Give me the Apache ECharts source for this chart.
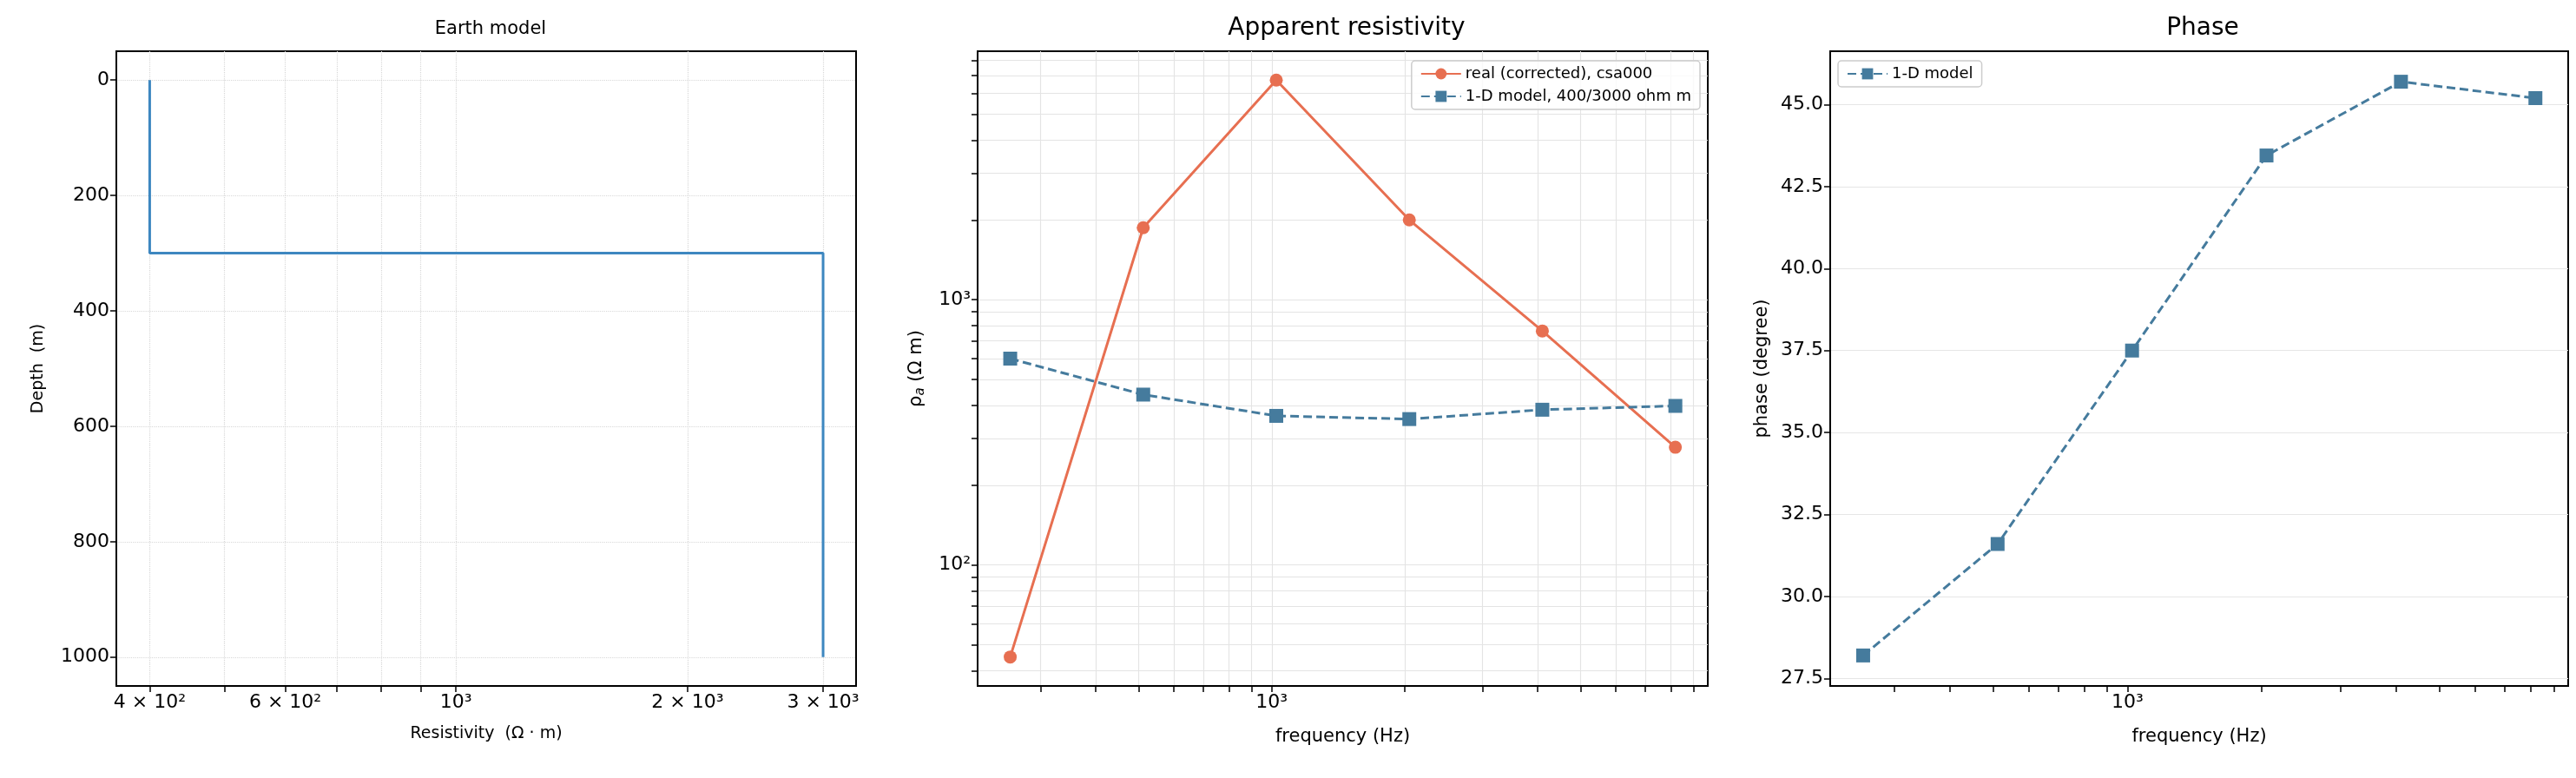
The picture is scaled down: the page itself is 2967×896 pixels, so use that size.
<!DOCTYPE html>
<html><head><meta charset="utf-8">
<script src="https://cdn.jsdelivr.net/npm/echarts@6/dist/echarts.min.js"></script>
<style>html,body{margin:0;padding:0;background:#fff}#c{width:2967px;height:896px}</style>
</head><body><div id="c"></div>
<script>
// Earth model
const layerRes = [400, 3000];
const layerDepth = [0, 300, 1000];
// Frequencies and responses
const freq = [256, 512, 1024, 2048, 4096, 8192];
const rhoReal = [45, 1870, 6730, 2000, 763, 278];
const rhoModel = [600, 439, 365, 355, 385, 398];
const phaseModel = [28.2, 31.6, 37.5, 43.45, 45.7, 45.2];
// Tick labels
const resTicks = [400, 600, 1000, 2000, 3000];
const resTickLabels = ['4 × 10²', '6 × 10²', '10³', '2 × 10³', '3 × 10³'];
const depthTicks = [0, 200, 400, 600, 800, 1000];
const phaseTicks = [27.5, 30.0, 32.5, 35.0, 37.5, 40.0, 42.5, 45.0];

const earthLine = [];
for (let i = 0; i < layerRes.length; i++) {
  earthLine.push([layerRes[i], layerDepth[i]]);
  earthLine.push([layerRes[i], layerDepth[i + 1]]);
}
function minorLog(lo, hi) {
  const v = [];
  for (let d = Math.pow(10, Math.floor(Math.log10(lo))); d <= hi; d *= 10)
    for (let k = 1; k < 10; k++) { const x = k * d; if (x >= lo && x <= hi) v.push(x); }
  return v;
}
const font = 'DejaVu Sans';
const lab = {color: '#000', fontSize: 22, fontFamily: font};
const frame = {show: true, borderColor: '#000', borderWidth: 2, backgroundColor: 'transparent'};
const axLine = {show: true, onZero: false, lineStyle: {color: '#000', width: 2}};
const tick = (vals) => ({show: true, length: 7, inside: false, lineStyle: {color: '#000', width: 1.5}, customValues: vals});

const chart = echarts.init(document.getElementById('c'));
chart.setOption({
  animation: false,
  title: [
    {text: 'Earth model', left: 560, top: 18, textAlign: 'center', textStyle: {fontSize: 21, fontWeight: 'normal', fontFamily: font, color: '#000'}},
    {text: 'Apparent resistivity', left: 1546, top: 14, textAlign: 'center', textStyle: {fontSize: 28, fontWeight: 'normal', fontFamily: font, color: '#000'}},
    {text: 'Phase', left: 2532, top: 14, textAlign: 'center', textStyle: {fontSize: 28, fontWeight: 'normal', fontFamily: font, color: '#000'}}
  ],
  grid: [
    Object.assign({left: 134, width: 852, top: 59, height: 731}, frame),
    Object.assign({left: 1126, width: 841, top: 59, height: 731}, frame),
    Object.assign({left: 2108, width: 850, top: 59, height: 731}, frame)
  ],
  legend: [
    {data: ['real (corrected), csa000', '1-D model, 400/3000 ohm m'], orient: 'vertical', right: 2967 - 1958, top: 70,
     itemWidth: 46, itemHeight: 16, itemGap: 8, textStyle: {fontSize: 18, fontFamily: font, color: '#000'},
     borderColor: '#ccc', borderWidth: 1.5, borderRadius: 4, padding: [6, 10, 6, 10], backgroundColor: 'rgba(255,255,255,0.8)'},
    {data: ['1-D model'], left: 2117, top: 70, itemWidth: 46, itemHeight: 16, textStyle: {fontSize: 18, fontFamily: font, color: '#000'},
     borderColor: '#ccc', borderWidth: 1.5, borderRadius: 4, padding: [6, 10, 6, 10]}
  ],
  xAxis: [
    {gridIndex: 0, type: 'log', min: 362, max: 3311, name: 'Resistivity  (Ω · m)', nameLocation: 'middle', nameGap: 46,
     nameTextStyle: {fontSize: 19, fontFamily: font, color: '#000'}, axisLine: axLine, axisTick: tick(minorLog(362, 3311)),
     axisLabel: Object.assign({customValues: resTicks, formatter: v => resTickLabels[resTicks.indexOf(Math.round(v))] || ''}, lab),
     splitLine: {show: true, lineStyle: {color: '#d8d8d8', type: 'dotted', width: 1.2}}},
    {gridIndex: 1, type: 'log', min: 216, max: 9700, name: 'frequency (Hz)', nameLocation: 'middle', nameGap: 48,
     nameTextStyle: {fontSize: 21, fontFamily: font, color: '#000'}, axisLine: axLine, axisTick: tick(minorLog(216, 9700)),
     axisLabel: Object.assign({customValues: [1000], formatter: () => '10³'}, lab),
     splitLine: {show: true, lineStyle: {color: '#e4e4e4', width: 1.2}}},
    {gridIndex: 2, type: 'log', min: 216, max: 9700, name: 'frequency (Hz)', nameLocation: 'middle', nameGap: 48,
     nameTextStyle: {fontSize: 21, fontFamily: font, color: '#000'}, axisLine: axLine, axisTick: tick(minorLog(216, 9700)),
     axisLabel: Object.assign({customValues: [1000], formatter: () => '10³'}, lab),
     splitLine: {show: false}}
  ],
  yAxis: [
    {gridIndex: 0, type: 'value', inverse: true, min: -50, max: 1050, name: 'Depth  (m)', nameLocation: 'middle', nameGap: 80,
     nameTextStyle: {fontSize: 19, fontFamily: font, color: '#000'}, axisLine: axLine, axisTick: tick(depthTicks),
     axisLabel: Object.assign({customValues: depthTicks, formatter: v => String(v)}, lab),
     splitLine: {show: true, lineStyle: {color: '#d8d8d8', type: 'dotted', width: 1.2}}},
    {gridIndex: 1, type: 'log', min: 35, max: 8650, name: 'ρ{s|a} (Ω m)', nameLocation: 'middle', nameGap: 58,
     nameTextStyle: {fontSize: 21, fontFamily: font, color: '#000', rich: {s: {fontSize: 15, fontStyle: 'italic', verticalAlign: 'bottom', padding: [10, 0, 0, 0]}}},
     axisLine: axLine, axisTick: tick(minorLog(35, 8650)),
     axisLabel: Object.assign({customValues: [100, 1000], formatter: v => Math.round(v) === 100 ? '10²' : '10³'}, lab),
     splitLine: {show: true, lineStyle: {color: '#e4e4e4', width: 1.2}}},
    {gridIndex: 2, type: 'value', min: 27.27, max: 46.63, name: 'phase (degree)', nameLocation: 'middle', nameGap: 68,
     nameTextStyle: {fontSize: 21, fontFamily: font, color: '#000'}, axisLine: axLine, axisTick: tick(phaseTicks),
     axisLabel: Object.assign({customValues: phaseTicks, formatter: v => v.toFixed(1)}, lab),
     splitLine: {show: true, lineStyle: {color: '#e6e6e6', width: 1.2}}}
  ],
  series: [
    {type: 'line', xAxisIndex: 0, yAxisIndex: 0, data: earthLine, showSymbol: false, lineStyle: {color: '#3d87c0', width: 3}, itemStyle: {color: '#3d87c0'}},
    {name: 'real (corrected), csa000', type: 'line', xAxisIndex: 1, yAxisIndex: 1, data: freq.map((f, i) => [f, rhoReal[i]]),
     symbol: 'circle', symbolSize: 15, lineStyle: {color: '#e76f51', width: 3}, itemStyle: {color: '#e76f51'}},
    {name: '1-D model, 400/3000 ohm m', type: 'line', xAxisIndex: 1, yAxisIndex: 1, data: freq.map((f, i) => [f, rhoModel[i]]),
     symbol: 'rect', symbolSize: 16, lineStyle: {color: '#457b9d', width: 3, type: [10, 5]}, itemStyle: {color: '#457b9d'}},
    {name: '1-D model', type: 'line', xAxisIndex: 2, yAxisIndex: 2, data: freq.map((f, i) => [f, phaseModel[i]]),
     symbol: 'rect', symbolSize: 16, lineStyle: {color: '#457b9d', width: 3, type: [10, 5]}, itemStyle: {color: '#457b9d'}}
  ]
});
</script></body></html>
